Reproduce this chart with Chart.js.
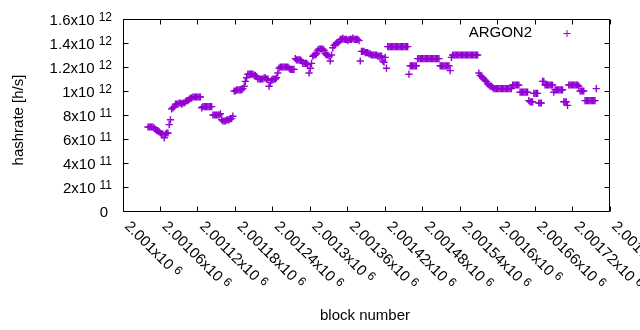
<!DOCTYPE html>
<html><head><meta charset="utf-8">
<script src="https://cdn.jsdelivr.net/npm/chart.js@4/dist/chart.umd.min.js"></script>
<style>html,body{margin:0;padding:0;background:#fff;}#wrap{width:640px;height:330px;}</style>
</head><body><div id="wrap"><canvas id="c" width="640" height="330"></canvas></div>
<script>
// ---- data ----
const seriesName = 'ARGON2';
const blockStart = 2001040;   // first sampled block
const blockStep = 2;          // blocks between samples
// hashrate in units of 1e10 h/s, one value per sample
const hashrateE10 = [
70,70,70,70,70,69,68,67,67,66,65,64,64,61,64,65,65,
72,76,85,86,87,89,89,89,90,90,89,90,90,91,92,92,93,94,94,95,95,95,95,95,95,95,
86,87,87,87,87,87,87,87,87,80,80,80,80,80,80,81,76,75,75,75,76,76,76,77,77,79,
100,100,101,101,101,101,101,102,104,108,111,114,114,114,114,114,113,113,112,110,110,110,110,110,111,111,110,110,104,107,109,110,110,110,111,115,
119,120,120,120,120,120,120,120,119,118,118,118,118,127,126,126,126,126,125,123,123,123,123,122,115,119,123,129,130,130,131,134,135,135,135,135,134,131,130,130,129,125,130,136,138,139,140,140,141,
143,143,144,143,143,143,142,143,143,143,144,143,143,143,143,142,125,133,133,133,132,132,132,131,131,130,130,130,130,130,129,129,129,129,125,124,128,119,
137,137,137,137,137,137,137,137,137,137,137,137,137,137,137,137,137,114,121,121,121,121,121,121,127,127,127,127,127,127,127,127,127,127,127,127,127,127,127,127,127,127,121,121,121,121,121,121,121,121,117,128,
130,130,130,130,130,130,130,130,130,130,130,130,130,130,130,130,130,130,130,130,130,115,113,112,111,110,109,108,106,105,104,104,103,102,102,102,102,102,102,102,102,102,102,102,102,102,102,102,105,105,105,105,105,105,
99,99,99,99,99,99,99,92,91,91,91,98,98,98,98,90,90,90,108,108,105,105,105,105,105,105,105,99,101,101,101,101,101,101,101,91,91,91,88,105,105,105,105,105,105,105,105,104,100,100,100,100,92,92,92,92,92,92,92,92,92,102
];
const xTickValues = [2001000,2001060,2001120,2001180,2001240,2001300,2001360,2001420,2001480,2001540,2001600,2001660,2001720,2001780];
const xTickMantissa = ['2.001','2.00106','2.00112','2.00118','2.00124','2.0013','2.00136','2.00142','2.00148','2.00154','2.0016','2.00166','2.00172','2.00178'];
const xTickExponent = '6';
const yTickValues = [0,2e11,4e11,6e11,8e11,1e12,1.2e12,1.4e12,1.6e12];
const yTickMantissa = ['0','2','4','6','8','1','1.2','1.4','1.6'];
const yTickExponent = ['','11','11','11','11','12','12','12','12'];
const xTitle = 'block number';
const yTitle = 'hashrate [h/s]';

const COLOR = '#9400d3';
const FONT = '"Liberation Sans", Arial, sans-serif';
const points = hashrateE10.map((v, i) => ({x: blockStart + i * blockStep, y: v * 1e10}));

function crisp(v){ return Math.floor(v) + 0.5; }

const gnuplotFrame = {
  id: 'gnuplotFrame',
  afterDatasetsDraw(chart) {
    const {ctx, chartArea: a, scales: {x, y}} = chart;
    ctx.save();
    ctx.strokeStyle = '#000';
    ctx.lineWidth = 1;
    const L = crisp(a.left), R = crisp(a.right) - 1, T = crisp(a.top), B = crisp(a.bottom);
    const TL = 5;
    ctx.beginPath();
    ctx.rect(L, T, R - L, B - T);
    xTickValues.forEach(v => {
      const px = crisp(x.getPixelForValue(v));
      ctx.moveTo(px, B); ctx.lineTo(px, B - TL);
      ctx.moveTo(px, T); ctx.lineTo(px, T + TL);
    });
    yTickValues.forEach(v => {
      const py = crisp(y.getPixelForValue(v));
      ctx.moveTo(L, py); ctx.lineTo(L + TL, py);
      ctx.moveTo(R, py); ctx.lineTo(R - TL, py);
    });
    ctx.stroke();

    ctx.fillStyle = '#000';
    // y tick labels
    yTickValues.forEach((v, i) => {
      const py = y.getPixelForValue(v);
      ctx.textAlign = 'right';
      ctx.textBaseline = 'alphabetic';
      const e = yTickExponent[i];
      if (e) {
        ctx.font = '12px ' + FONT;
        const sw = ctx.measureText(e).width;
        ctx.fillText(e, 112, py + 1.5);
        ctx.font = '15px ' + FONT;
        ctx.fillText(yTickMantissa[i] + 'x10', 112 - sw - 4, py + 5.5);
      } else {
        ctx.font = '15px ' + FONT;
        ctx.fillText(yTickMantissa[i], 108, py + 5.5);
      }
    });
    // x tick labels (rotated)
    xTickValues.forEach((v, i) => {
      const px = x.getPixelForValue(v);
      ctx.save();
      ctx.translate(px + 1, a.bottom + 16);
      ctx.rotate(Math.PI / 4);
      ctx.textAlign = 'left';
      ctx.textBaseline = 'alphabetic';
      ctx.font = '15px ' + FONT;
      const base = xTickMantissa[i] + 'x10';
      const w = ctx.measureText(base).width;
      ctx.fillText(base, 0, 0);
      ctx.font = '12px ' + FONT;
      ctx.fillText(xTickExponent, w + 4, -4);
      ctx.restore();
    });
    // axis titles
    ctx.font = '15px ' + FONT;
    ctx.textAlign = 'center';
    ctx.textBaseline = 'alphabetic';
    ctx.fillText(xTitle, 365, 320);
    ctx.save();
    ctx.translate(23, 120);
    ctx.rotate(-Math.PI / 2);
    ctx.fillText(yTitle, 0, 0);
    ctx.restore();
    // legend
    ctx.textAlign = 'right';
    ctx.fillText(seriesName, 532, 37);
    ctx.strokeStyle = COLOR;
    ctx.beginPath();
    ctx.moveTo(563.5, 33.5); ctx.lineTo(570.5, 33.5);
    ctx.moveTo(567, 30); ctx.lineTo(567, 37);
    ctx.stroke();
    ctx.restore();
  }
};

new Chart(document.getElementById('c'), {
  type: 'scatter',
  data: {
    datasets: [{
      label: seriesName,
      data: points,
      pointStyle: 'cross',
      pointRadius: 3.6,
      pointHoverRadius: 3.6,
      borderWidth: 1.4,
      borderColor: COLOR,
      backgroundColor: COLOR,
      showLine: false
    }]
  },
  options: {
    responsive: false,
    animation: false,
    devicePixelRatio: 1,
    layout: {padding: {left: 123, top: 19, right: 30, bottom: 119}},
    scales: {
      x: {type: 'linear', min: 2001000, max: 2001780, display: false},
      y: {type: 'linear', min: 0, max: 1.6e12, display: false}
    },
    plugins: {legend: {display: false}, tooltip: {enabled: false}}
  },
  plugins: [gnuplotFrame]
});
</script>
</body></html>
